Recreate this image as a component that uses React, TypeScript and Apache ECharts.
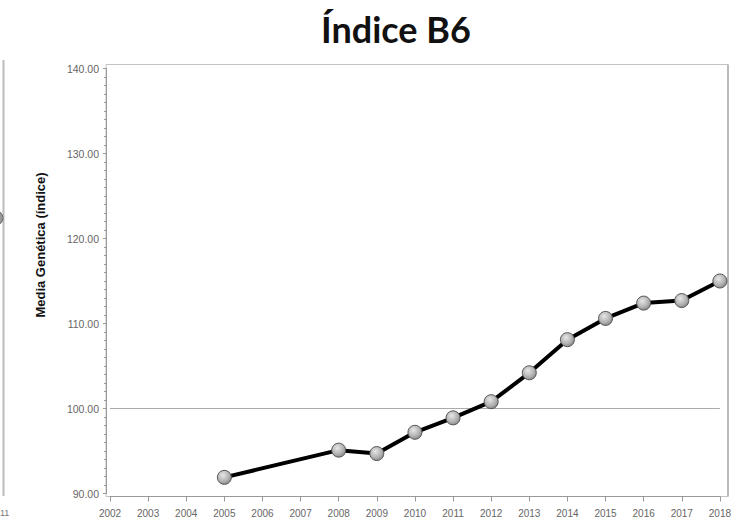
import React, { useEffect, useRef } from "react";
import * as echarts from "echarts";

const titleText = "Índice B6";
const yAxisTitle = "Media Genética (índice)";
const years = [2005, 2008, 2009, 2010, 2011, 2012, 2013, 2014, 2015, 2016, 2017, 2018];
const values = [91.9, 95.1, 94.7, 97.2, 98.9, 100.8, 104.2, 108.1, 110.6, 112.4, 112.7, 115.0];
const xRange = [2002, 2018];
const yRange = [90, 140];
const referenceValue = 100;

export default function App() {
  const ref = useRef<HTMLDivElement>(null);
  useEffect(() => {
    if (!ref.current) return;
    const chart = echarts.init(ref.current, undefined, { renderer: "svg" });
    const sphere = {
      type: "radial",
      x: 0.4,
      y: 0.35,
      r: 0.75,
      colorStops: [
        { offset: 0, color: "#e6e6e6" },
        { offset: 0.6, color: "#b0b0b0" },
        { offset: 1, color: "#7a7a7a" },
      ],
    };
    chart.setOption({
      animation: false,
      backgroundColor: "#ffffff",
      title: {
        text: titleText,
        left: 316,
        top: 6,
        textStyle: { fontFamily: "Lato", fontWeight: "bold", fontSize: 36, color: "#111" },
      },
      grid: { left: 110, right: 8, top: 68.5, bottom: 28.5 },
      xAxis: {
        type: "value",
        min: xRange[0],
        max: xRange[1],
        interval: 1,
        offset: 3,
        axisLine: { show: true, lineStyle: { color: "#999", width: 1 } },
        axisTick: { show: true, length: 5, lineStyle: { color: "#999" } },
        axisLabel: {
          color: "#666",
          fontSize: 10,
          fontFamily: "Liberation Sans",
          margin: 12,
          formatter: (v: number) => String(v),
        },
        splitLine: { show: false },
      },
      yAxis: {
        type: "value",
        min: yRange[0],
        max: yRange[1],
        interval: 10,
        offset: 4,
        axisLine: { show: true, lineStyle: { color: "#999", width: 1 } },
        axisTick: { show: true, length: 3, lineStyle: { color: "#999" } },
        minorTick: { show: true, splitNumber: 10, length: 2, lineStyle: { color: "#999" } },
        axisLabel: {
          color: "#666",
          fontSize: 10.5,
          fontFamily: "Liberation Sans",
          margin: 7,
          formatter: (v: number) => v.toFixed(2),
        },
        splitLine: { show: false },
      },
      graphic: [
        {
          type: "rect",
          shape: { x: 106, y: 64.5, width: 622, height: 432 },
          style: { fill: "none", stroke: "#c4c4c4", lineWidth: 1 },
          z: 0,
          silent: true,
        },
        {
          type: "line",
          shape: { x1: 728, y1: 64.5, x2: 728, y2: 496.5 },
          style: { stroke: "#bbb", lineWidth: 2 },
          silent: true,
        },
        {
          type: "text",
          x: 40,
          y: 245,
          rotation: Math.PI / 2,
          style: {
            text: yAxisTitle,
            fontFamily: "Liberation Sans",
            fontWeight: "bold",
            fontSize: 13,
            fill: "#111",
            align: "center",
            verticalAlign: "middle",
          },
        },
        {
          type: "line",
          shape: { x1: 3.5, y1: 60, x2: 3.5, y2: 496 },
          style: { stroke: "#bbb", lineWidth: 2 },
          silent: true,
        },
        {
          type: "circle",
          shape: { cx: -4, cy: 218, r: 7 },
          style: { fill: "#999", stroke: "#666", lineWidth: 1 },
          silent: true,
        },
        {
          type: "text",
          x: 0,
          y: 508,
          style: { text: "11", fontFamily: "Liberation Sans", fontSize: 9, fill: "#777" },
          silent: true,
        },
      ],
      series: [
        {
          type: "line",
          data: years.map((y, i) => [y, values[i]]),
          lineStyle: { color: "#000", width: 4 },
          symbol: "circle",
          symbolSize: 14,
          itemStyle: { color: sphere, borderColor: "#555", borderWidth: 1 },
          z: 5,
          markLine: {
            silent: true,
            symbol: "none",
            label: { show: false },
            lineStyle: { color: "#aaa", width: 1, type: "solid" },
            data: [{ yAxis: referenceValue }],
            z: 1,
          },
        },
      ],
    });
    return () => chart.dispose();
  }, []);
  return (
    <div
      ref={ref}
      style={{ position: "fixed", left: 0, top: 0, width: 734, height: 522 }}
    />
  );
}
